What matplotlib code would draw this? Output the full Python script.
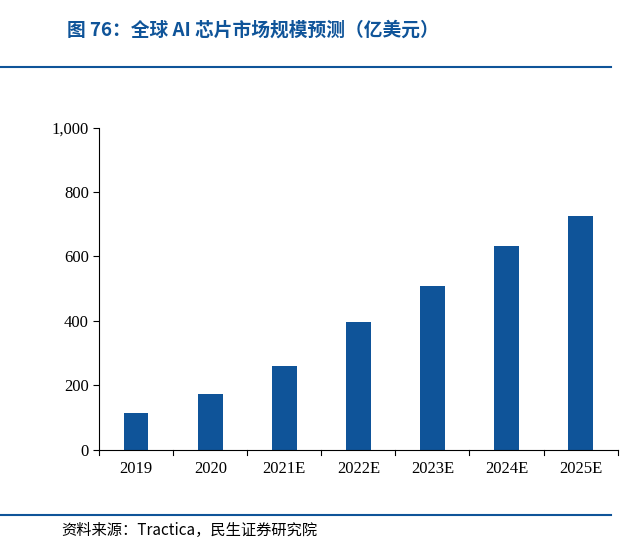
import matplotlib
matplotlib.use("Agg")
import matplotlib.pyplot as plt
from matplotlib.lines import Line2D

years = ["2019", "2020", "2021E", "2022E", "2023E", "2024E", "2025E"]
market = [112, 174, 261, 397, 509, 633, 727]
yticks = [0, 200, 400, 600, 800, 1000]

blue = "#0F5499"
cjk = ["Noto Sans CJK SC", "DejaVu Sans"]
serif = ["Liberation Serif", "Noto Sans CJK SC"]

fig = plt.figure(figsize=(6.4, 5.55), dpi=100)
ax = fig.add_axes([0.155, 0.19, 0.81, 0.58])
ax.bar(range(len(years)), market, width=0.33, color=blue)
ax.set_xlim(-0.5, len(years) - 0.5)
ax.set_ylim(0, 1000)
ax.set_yticks(yticks)
ax.set_yticklabels([f"{v:,}" for v in yticks], family=serif, fontsize=12)
ax.set_xticks(range(len(years)))
ax.set_xticklabels(years, family=serif, fontsize=12)
for s in ["top", "right"]:
    ax.spines[s].set_visible(False)
ax.spines["left"].set_color("black")
ax.spines["bottom"].set_color("black")
ax.tick_params(axis="x", length=0, pad=8)
ax.tick_params(axis="y", length=4, direction="out")
for x in [i + 0.5 for i in range(-1, len(years))]:
    ax.plot([x, x], [0, -18], color="black", lw=0.8, clip_on=False)

fig.text(0.105, 0.945, "图 76：全球 AI 芯片市场规模预测（亿美元）", family=cjk,
         fontsize=13.5, fontweight="bold", color=blue, va="center")
fig.add_artist(Line2D([0.0, 0.955], [0.88, 0.88], color=blue, lw=1.5))
fig.add_artist(Line2D([0.0, 0.955], [0.072, 0.072], color=blue, lw=1.5))
fig.text(0.095, 0.045, "资料来源：Tractica，民生证券研究院", family=cjk,
         fontsize=11, va="center")

fig.savefig("out.png", dpi=100, facecolor="white")
